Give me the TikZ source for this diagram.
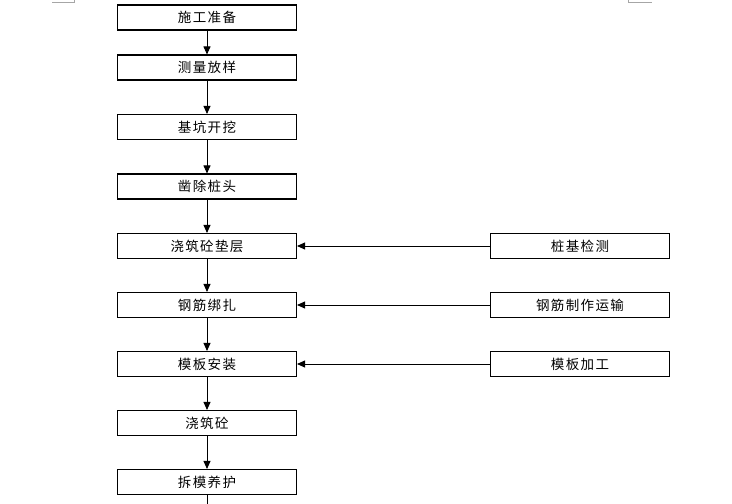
\documentclass[tikz,border=0pt]{standalone}
\usepackage{fontspec}
\setmainfont[LetterSpace=10]{Noto Sans CJK SC}
\usetikzlibrary{arrows.meta}
\begin{document}
\begin{tikzpicture}[x=1pt,y=-1pt,
  stepbox/.style={draw=black,line width=1.1pt,minimum width=179pt,minimum height=25pt,inner sep=0pt,font=\fontsize{13.5}{14}\selectfont,fill=white},
  arr/.style={line width=0.9pt,-{Triangle[length=8pt,width=7pt]}}]
\useasboundingbox (0,0) rectangle (732,504);
\fill[white] (0,0) rectangle (732,504);
% corner marks
\draw[draw=black!35,line width=1pt] (52,2) -- (74,2) -- (74,0);
\draw[draw=black!35,line width=1pt] (628,0) -- (628,2) -- (652,2);
% left column
\node[stepbox] (a1) at (207,17.5) {施工准备};
\node[stepbox] (a2) at (207,67.5) {测量放样};
\node[stepbox] (a3) at (207,127) {基坑开挖};
\node[stepbox] (a4) at (207,186.5) {凿除桩头};
\node[stepbox] (a5) at (207,246) {浇筑砼垫层};
\node[stepbox] (a6) at (207,305) {钢筋绑扎};
\node[stepbox] (a7) at (207,364) {模板安装};
\node[stepbox] (a8) at (207,423) {浇筑砼};
\node[stepbox] (a9) at (207,482) {拆模养护};
\coordinate (end) at (207,504);
% right column
\node[stepbox] (b1) at (580,246) {桩基检测};
\node[stepbox] (b2) at (580,305) {钢筋制作运输};
\node[stepbox] (b3) at (580,364) {模板加工};
% connectors
\foreach \i/\j in {a1/a2,a2/a3,a3/a4,a4/a5,a5/a6,a6/a7,a7/a8,a8/a9}
  \draw[arr] (\i.south) -- (\j.north);
\draw[line width=0.9pt] (a9.south) -- (end);
\draw[arr] (b1.west) -- (a5.east);
\draw[arr] (b2.west) -- (a6.east);
\draw[arr] (b3.west) -- (a7.east);
\end{tikzpicture}
\end{document}
